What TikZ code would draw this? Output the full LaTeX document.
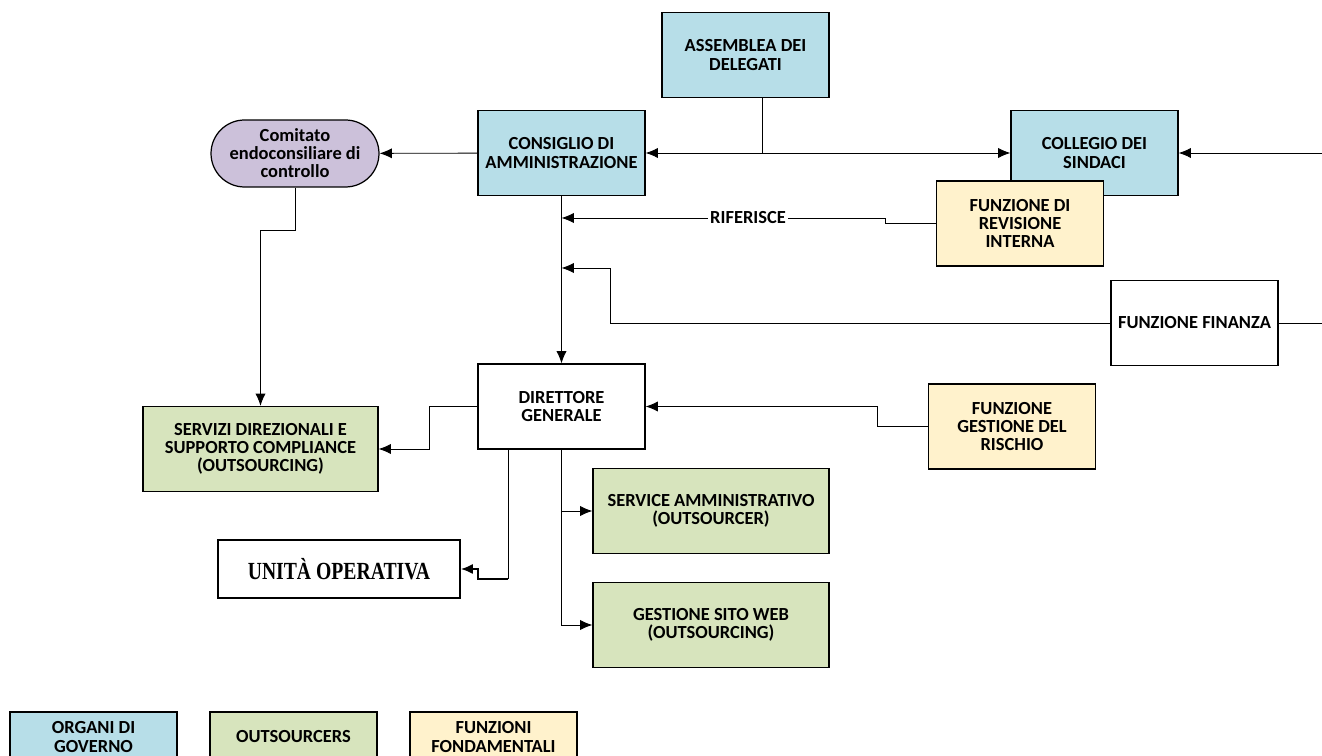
\documentclass[tikz,border=0pt]{standalone}
\usepackage{fontspec}
\setmainfont{Carlito}
\newfontfamily\seriffont[FakeStretch=0.8]{Liberation Serif}
\usetikzlibrary{arrows.meta}
\definecolor{cGoverno}{HTML}{B7DEE8}
\definecolor{cOutsrc}{HTML}{D7E4BD}
\definecolor{cFondam}{HTML}{FFF2CC}
\definecolor{cComitato}{HTML}{CCC1DA}
\begin{document}
\begin{tikzpicture}[
  x=0.02cm, y=-0.02cm,
  every node/.style={draw, align=center, inner sep=0pt, line width=0.7pt,
    font=\fontsize{10.5}{10.3}\selectfont\bfseries},
  >={Latex[length=7pt,width=5.8pt]}, line width=0.5pt
]
\tikzset{
  box/.style={minimum width=3.34cm, minimum height=1.7cm},
  organo/.style={box, fill=cGoverno},
  outsourcer/.style={box, fill=cOutsrc, minimum width=4.72cm},
  funzione/.style={box, fill=cFondam},
  bianco/.style={box, fill=white},
  legenda/.style={minimum width=3.34cm, minimum height=1cm},
  etichetta/.style={draw=none, fill=white, inner sep=1pt}
}
\useasboundingbox (0,0) rectangle (1322,756);

% organi e funzioni
\node[organo] (assemblea) at (745.5,55) {ASSEMBLEA DEI\\DELEGATI};
\node[organo] (consiglio) at (561.5,153) {CONSIGLIO DI\\AMMINISTRAZIONE};
\node[fill=cComitato, minimum width=3.36cm, minimum height=1.34cm, rounded corners=0.67cm] (comitato) at (295,153.5) {Comitato\\endoconsiliare di\\controllo};
\node[organo] (collegio) at (1094.5,153) {COLLEGIO DEI\\SINDACI};
\node[funzione] (revisione) at (1020,223.5) {FUNZIONE DI\\REVISIONE\\INTERNA};
\node[bianco] (finanza) at (1194.5,323) {FUNZIONE FINANZA};
\node[bianco] (direttore) at (561.5,406.5) {DIRETTORE\\GENERALE};
\node[funzione] (rischio) at (1012,426.5) {FUNZIONE\\GESTIONE DEL\\RISCHIO};
\node[outsourcer, minimum width=4.7cm] (servizi) at (260.5,449) {SERVIZI DIREZIONALI E\\SUPPORTO COMPLIANCE\\(OUTSOURCING)};
\node[outsourcer] (service) at (711,511) {SERVICE AMMINISTRATIVO\\(OUTSOURCER)};
\node[outsourcer] (sitoweb) at (711,625) {GESTIONE SITO WEB\\(OUTSOURCING)};
\node[bianco, minimum width=4.84cm, minimum height=1.16cm,
  font=\seriffont\fontsize{14}{16}\selectfont\bfseries] (unita) at (339,569) {UNITÀ OPERATIVA};

% legenda
\node[legenda, fill=cGoverno] (legGoverno) at (93.5,737) {ORGANI DI\\GOVERNO};
\node[legenda, fill=cOutsrc] (legOutsrc) at (293.5,737) {OUTSOURCERS};
\node[legenda, fill=cFondam] (legFondam) at (493.5,737) {FUNZIONI\\FONDAMENTALI};

% collegamenti
\coordinate (nodoAss) at (762,153);
\coordinate (bordoCollegio) at (1322,153);
\coordinate (riferisce) at (561.5,218);
\coordinate (finGomito) at (610,268);
\coordinate (finArrivo) at (561.5,268);
\coordinate (bordoFinanza) at (1322,323);
\coordinate (uoAttacco) at (508,449);
\coordinate (uoPiede) at (508,579);

\draw (assemblea.south -| nodoAss) -- (nodoAss);
\draw[->] (nodoAss) -- (consiglio);
\draw[->] (nodoAss) -- (collegio);
\draw[->] (bordoCollegio) -- (collegio);
\draw[->] (consiglio) -- (comitato);
\draw[->] (consiglio) -- (direttore);
\draw[->] (revisione.west) -- ++(-50,0) |- (riferisce);
\node[etichetta] (labRiferisce) at (748,218) {RIFERISCE};
\draw[->] (finanza.west) -| (finGomito) -- (finArrivo);
\draw (finanza) -- (bordoFinanza);
\draw[->] (rischio.west) -- ++(-50,0) |- (direttore.east);
\draw[->] (direttore.west) -- ++(-48,0) |- (servizi.east);
\draw[->] (comitato.south) -- ++(0,43) -| (servizi.north);
\draw[->] (direttore.south) |- (sitoweb.west);
\draw[->] (direttore.south |- service.west) -- (service.west);
\draw (uoAttacco) -- (uoPiede);
\draw[->, line width=1.4pt] (uoPiede) -- ++(-30,0) |- (unita.east);
\end{tikzpicture}
\end{document}
